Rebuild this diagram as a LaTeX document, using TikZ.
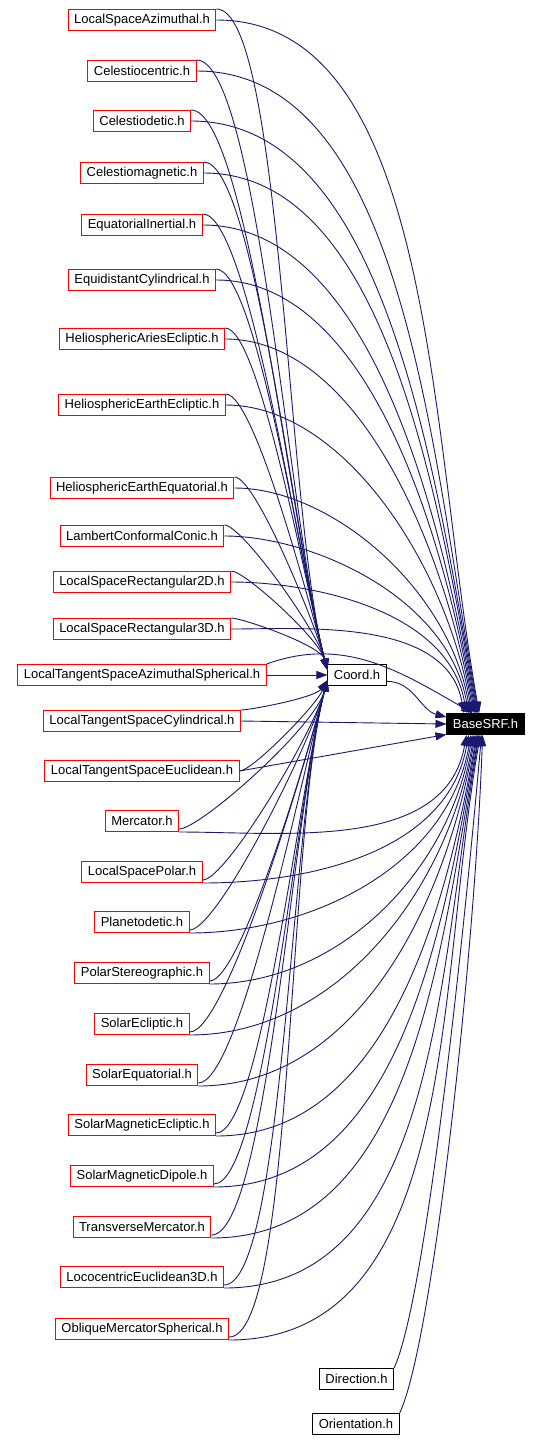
\documentclass[tikz,border=0pt]{standalone}
\usepackage{fontspec}
\setmainfont{Liberation Sans}
\usetikzlibrary{arrows.meta}
\definecolor{edgeblue}{HTML}{191970}

\begin{document}
\begin{tikzpicture}[x=1pt, y=1pt,
	every node/.style={font=\fontsize{13}{15}\selectfont, inner xsep=6pt, inner ysep=0pt, minimum height=21pt, line width=1pt},
	srcfile/.style={draw=red, fill=white},
	hdrfile/.style={draw=black, fill=white},
	basefile/.style={draw=black, fill=black, text=white},
	incl/.style={draw=edgeblue, line width=0.9pt, -{Triangle[length=11pt,width=8pt]}}]
	\path[use as bounding box, fill=white] (0,0) rectangle (540,-1441);
	% files that include Coord.h and BaseSRF.h
	\foreach \y/\name [count=\i] in {20/LocalSpaceAzimuthal, 71/Celestiocentric, 121/Celestiodetic,
		173/Celestiomagnetic, 225/EquatorialInertial, 280/EquidistantCylindrical,
		339/HeliosphericAriesEcliptic, 405/HeliosphericEarthEcliptic, 488/HeliosphericEarthEquatorial,
		536/LambertConformalConic, 582/LocalSpaceRectangular2D, 629/LocalSpaceRectangular3D,
		675/LocalTangentSpaceAzimuthalSpherical, 721/LocalTangentSpaceCylindrical,
		771/LocalTangentSpaceEuclidean, 821/Mercator, 872/LocalSpacePolar, 922/Planetodetic,
		973/PolarStereographic, 1024/SolarEcliptic, 1075/SolarEquatorial, 1125/SolarMagneticEcliptic,
		1176/SolarMagneticDipole, 1227/TransverseMercator, 1277/LococentricEuclidean3D,
		1329/ObliqueMercatorSpherical}
		\node[srcfile] (n\i) at (142,-\y) {\name.h};
	\node[hdrfile] (coord) at (357,-675) {Coord.h};
	\node[basefile] (base) at (485.5,-724) {BaseSRF.h};
	\node[hdrfile] (dir) at (356.5,-1379) {Direction.h};
	\node[hdrfile] (orient) at (356,-1424) {Orientation.h};
	% upper files
	\foreach \i in {1,...,12} {
		\pgfmathtruncatemacro\a{117+3*\i}
		\draw[incl] (n\i.north east) to[out=0, in=105, out looseness=0.25, in looseness=0.6] (coord.170);
		\draw[incl] (n\i.east) to[out=0, in=100, out looseness=0.75] (base.\a);
	}
	% middle row
	\draw[incl] (n13.east) -- (coord.west);
	\draw[incl] (n13.north east) to[out=20, in=150] (base.140);
	\draw[incl] (n14.north east) to[out=0, in=235, out looseness=0.25, in looseness=0.6] (coord.190);
	\draw[incl] (n14.east) -- (base.west);
	\draw[incl] (n15.east) to[out=0, in=245, out looseness=0.25, in looseness=0.6] (coord.190);
	\draw[incl] (n15.east) -- (base.195);
	% lower files
	\foreach \i in {16,...,26} {
		\pgfmathtruncatemacro\a{210+3.5*(\i-16)}
		\draw[incl] ([yshift=3pt]n\i.south east) to[out=0, in=255, out looseness=0.25, in looseness=0.6] (coord.190);
		\draw[incl] (n\i.south east) to[out=0, in=260, out looseness=0.9] (base.\a);
	}
	\draw[incl] (coord.-12) to[out=0, in=165] (base.170);
	\draw[incl] (dir.north east) to[out=65, in=265, out looseness=0.3, in looseness=0.8] (base.250);
	\draw[incl] (orient.north east) to[out=65, in=268, out looseness=0.3, in looseness=0.8] (base.255);
\end{tikzpicture}
\end{document}
